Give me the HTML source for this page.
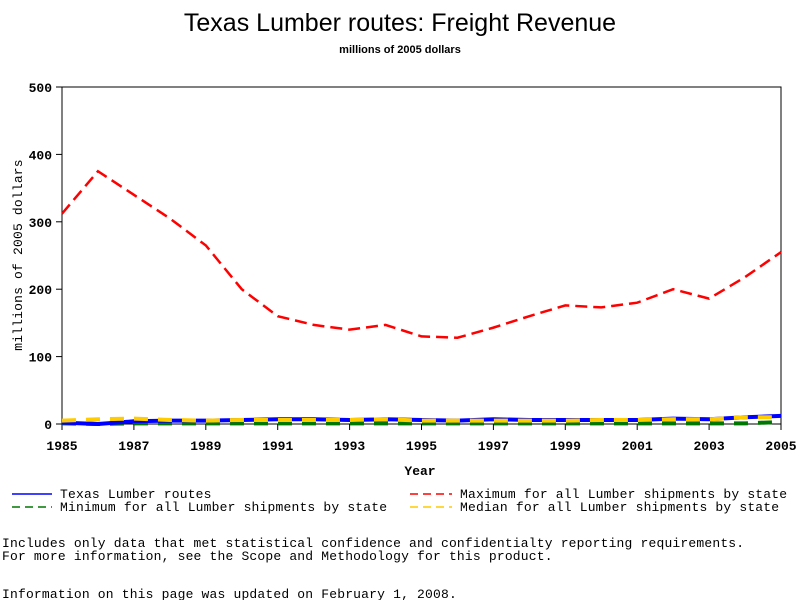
<!DOCTYPE html>
<html><head><meta charset="utf-8"><style>
body{margin:0;background:#fff;width:800px;height:600px;overflow:hidden}
svg{display:block}
.m{font-family:"Liberation Mono",monospace;font-size:13px;fill:#000;letter-spacing:0.18px}
.b{font-family:"Liberation Mono",monospace;font-size:13px;font-weight:bold;fill:#000}
</style></head><body>
<svg id="c" width="800" height="600">
<text x="400" y="31" text-anchor="middle" font-family="Liberation Sans,sans-serif" font-size="25">Texas Lumber routes: Freight Revenue</text>
<text x="400" y="53" text-anchor="middle" font-family="Liberation Sans,sans-serif" font-size="11" font-weight="bold">millions of 2005 dollars</text>
<rect x="62" y="87" width="719" height="337" fill="none" stroke="#000"/>
<g id="axes"></g>
<g id="series"></g>
<text x="420" y="475" text-anchor="middle" class="b">Year</text>
<text transform="translate(22,255) rotate(-90)" text-anchor="middle" class="m" font-size="12">millions of 2005 dollars</text>
<g>
<line x1="12" y1="494" x2="52" y2="494" stroke="#00f" stroke-width="1.5"/>
<text x="60" y="498" class="m">Texas Lumber routes</text>
<line x1="12" y1="507" x2="52" y2="507" stroke="#070" stroke-width="1.5" stroke-dasharray="8,5"/>
<text x="60" y="511" class="m">Minimum for all Lumber shipments by state</text>
<line x1="410" y1="494" x2="452" y2="494" stroke="#f00" stroke-width="1.5" stroke-dasharray="8,5"/>
<text x="460" y="498" class="m">Maximum for all Lumber shipments by state</text>
<line x1="410" y1="507" x2="452" y2="507" stroke="#fc0" stroke-width="1.5" stroke-dasharray="8,5"/>
<text x="460" y="511" class="m">Median for all Lumber shipments by state</text>
</g>
<text x="2" y="547" class="m">Includes only data that met statistical confidence and confidentialty reporting requirements.</text>
<text x="2" y="560" class="m">For more information, see the Scope and Methodology for this product.</text>
<text x="2" y="598" class="m">Information on this page was updated on February 1, 2008.</text>
</svg>
<script>
const years=[1985,1986,1987,1988,1989,1990,1991,1992,1993,1994,1995,1996,1997,1998,1999,2000,2001,2002,2003,2004,2005];
const maxVals=[312,375,340,305,265,200,160,147,140,147,130,128,143,160,176,173,180,200,186,218,255];
const texasVals=[2,0,4,5,5,6,7,7,6,7,6,5,7,6,6,6,6,8,7,10,12];
const medianVals=[5,7,8,6,5,6,6,6,6,7,5,5,5,5,5,6,6,7,7,10,10];
const minVals=[1,0,1,1,1,1,1,1,1,1,1,1,1,1,1,1,1,1,1,1,3];
const yTicks=[0,100,200,300,400,500];
const xTicks=[1985,1987,1989,1991,1993,1995,1997,1999,2001,2003,2005];
const NS="http://www.w3.org/2000/svg";
const X=v=>62+(v-1985)/20*719, Y=v=>424-v/500*337;
const ax=document.getElementById('axes'), sg=document.getElementById('series');
function mk(t,a,p){const e=document.createElementNS(NS,t);for(const k in a)e.setAttribute(k,a[k]);p.appendChild(e);return e;}
yTicks.forEach(v=>{
 const l=mk('line',{x1:56,x2:62,y1:Y(v),y2:Y(v),stroke:'#000'},ax);
 
 
 const t=mk('text',{x:52,y:Y(v)+5,'text-anchor':'end',class:'b'},ax);t.textContent=v;
 
 
});
xTicks.forEach(v=>{
 const l=mk('line',{x1:X(v),x2:X(v),y1:424,y2:430,stroke:'#000'},ax);
 
 
 const t=mk('text',{x:X(v),y:450,'text-anchor':'middle',class:'b'},ax);t.textContent=v;
 
 
});
function line(vals,color,dash,name,w){
 const p=mk('polyline',{points:vals.map((v,i)=>X(years[i])+','+Y(v)).join(' '),fill:'none',stroke:color,'stroke-width':w,'stroke-dasharray':dash},sg);
 
 
}
line(minVals,'#070','14,10','series-minimum',4);
line(texasVals,'#00f','none','series-texas',4);
line(medianVals,'#fc0','14,10','series-median',4);
line(maxVals,'#f00','12,6','series-maximum',2.5);
</script>
</body></html>
